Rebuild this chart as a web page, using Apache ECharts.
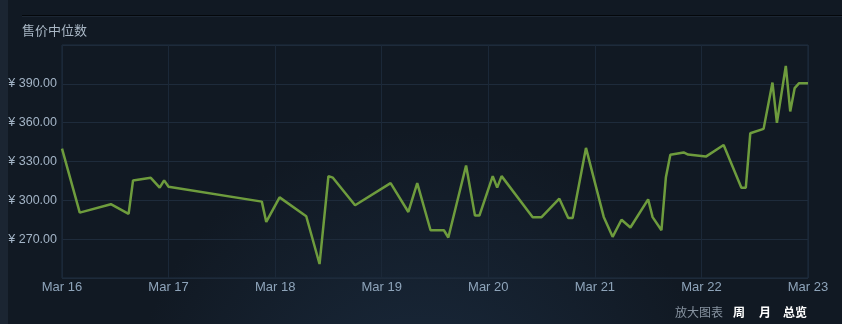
<!DOCTYPE html>
<html>
<head>
<meta charset="utf-8">
<script src="https://cdn.jsdelivr.net/npm/echarts@6/dist/echarts.min.js"></script>
<style>
html,body{margin:0;padding:0;background:#111923;}
#c{width:842px;height:324px;}
</style>
</head>
<body>
<div id="c"></div>
<script>
// Data
const times = [
  '2024-03-16 00:00','2024-03-16 04:00','2024-03-16 11:00','2024-03-16 15:00','2024-03-16 16:00',
  '2024-03-16 20:00','2024-03-16 22:00','2024-03-16 23:00','2024-03-17 00:00','2024-03-17 21:00',
  '2024-03-17 22:00','2024-03-18 01:00','2024-03-18 07:00','2024-03-18 10:00','2024-03-18 12:00',
  '2024-03-18 13:00','2024-03-18 18:00','2024-03-19 02:00','2024-03-19 06:00','2024-03-19 08:00',
  '2024-03-19 11:00','2024-03-19 14:00','2024-03-19 15:00','2024-03-19 19:00','2024-03-19 21:00',
  '2024-03-19 22:00','2024-03-20 01:00','2024-03-20 02:00','2024-03-20 03:00','2024-03-20 10:00',
  '2024-03-20 12:00','2024-03-20 16:00','2024-03-20 18:00','2024-03-20 19:00','2024-03-20 22:00',
  '2024-03-21 02:00','2024-03-21 04:00','2024-03-21 06:00','2024-03-21 08:00','2024-03-21 12:00',
  '2024-03-21 13:00','2024-03-21 15:00','2024-03-21 16:00','2024-03-21 17:00','2024-03-21 20:00',
  '2024-03-21 21:00','2024-03-22 01:00','2024-03-22 05:00','2024-03-22 09:00','2024-03-22 10:00',
  '2024-03-22 11:00','2024-03-22 14:00','2024-03-22 16:00','2024-03-22 17:00','2024-03-22 19:00',
  '2024-03-22 20:00','2024-03-22 21:00','2024-03-22 22:00','2024-03-23 00:00'
];
const prices = [
  340.0, 290.5, 297.0, 289.5, 315.4,
  317.4, 309.8, 315.4, 310.5, 299.0,
  283.3, 302.3, 287.7, 250.8, 318.7,
  317.5, 296.2, 313.3, 291.0, 313.3,
  276.9, 276.9, 271.3, 326.9, 288.2,
  288.2, 318.7, 309.8, 318.7, 287.0,
  287.0, 301.3, 286.4, 286.4, 340.5,
  287.2, 271.8, 285.0, 279.0, 300.8,
  287.0, 276.9, 317.9, 335.2, 337.0,
  335.4, 333.8, 342.8, 309.8, 309.8,
  351.8, 355.2, 391.0, 359.8, 403.8,
  368.7, 386.7, 390.5, 390.5
];
const xStart = '2024-03-16 00:00';
const xEnd = '2024-03-23 00:00';
const yTicks = [240, 270, 300, 330, 360, 390, 420];
const titleText = '售价中位数';
const zoomLabel = '放大图表';
const rangeButtons = ['周', '月', '总览'];
const monthNames = ['Jan','Feb','Mar','Apr','May','Jun','Jul','Aug','Sep','Oct','Nov','Dec'];

const chart = echarts.init(document.getElementById('c'), null, {renderer: 'canvas'});
const seriesData = times.map((t, i) => [t, prices[i]]);
const font = '"Liberation Sans", Arial, "Noto Sans CJK SC", sans-serif';
const cjk = '"Noto Sans CJK SC", "Liberation Sans", sans-serif';

chart.setOption({
  backgroundColor: {
    type: 'radial', x: 0.5, y: 1.3, r: 0.9,
    colorStops: [{offset: 0, color: '#1a2a3d'}, {offset: 1, color: '#111923'}]
  },
  animation: false,
  graphic: [
    {type: 'rect', left: 0, top: 0, shape: {width: 8, height: 324}, style: {fill: '#1b2532'}},
    {type: 'rect', left: 22, top: 15, shape: {width: 820, height: 1}, style: {fill: '#04070a'}},
    {type: 'rect', left: 22, top: 16, shape: {width: 820, height: 1}, style: {fill: '#1c2633'}},
    {type: 'text', left: 22, top: 24, style: {text: titleText, fill: '#a9b7c5', font: '13px ' + cjk}},
    {type: 'text', left: 675, top: 306, style: {text: zoomLabel, fill: '#8793a0', font: '12px ' + cjk}},
    {type: 'text', left: 733, top: 306, style: {text: rangeButtons[0], fill: '#ffffff', font: 'bold 12px ' + cjk}},
    {type: 'text', left: 759, top: 306, style: {text: rangeButtons[1], fill: '#ffffff', font: 'bold 12px ' + cjk}},
    {type: 'text', left: 783, top: 306, style: {text: rangeButtons[2], fill: '#ffffff', font: 'bold 12px ' + cjk}}
  ],
  grid: {left: 62, right: 34, top: 45, bottom: 46, show: true, borderColor: '#1f2e40', borderWidth: 1, backgroundColor: 'transparent'},
  xAxis: {
    type: 'time',
    min: xStart, max: xEnd,
    interval: 86400000,
    minInterval: 86400000,
    maxInterval: 86400000,
    axisLine: {show: false},
    axisTick: {show: false},
    splitLine: {show: true, lineStyle: {color: '#1b2838', width: 1}},
    axisLabel: {
      color: '#8ea4ba', fontSize: 13, fontFamily: font, margin: 3,
      showMinLabel: true, showMaxLabel: true,
      formatter: function (v) {
        const d = new Date(v);
        return monthNames[d.getMonth()] + ' ' + d.getDate();
      }
    }
  },
  yAxis: {
    type: 'value',
    min: yTicks[0], max: yTicks[yTicks.length - 1],
    interval: yTicks[1] - yTicks[0],
    axisLine: {show: false},
    axisTick: {show: false},
    splitLine: {show: true, lineStyle: {color: '#1e2b3b', width: 1}},
    axisLabel: {
      color: '#a3b4c6', fontSize: 12.5, fontFamily: font, margin: 5,
      showMinLabel: false, showMaxLabel: false,
      formatter: function (v) { return '¥ ' + v.toFixed(2); }
    }
  },
  series: [{
    type: 'line',
    data: seriesData,
    showSymbol: false,
    symbol: 'none',
    lineStyle: {color: '#6e9c3d', width: 2.5},
    itemStyle: {color: '#6e9c3d'},
    clip: true
  }]
});
</script>
</body>
</html>
